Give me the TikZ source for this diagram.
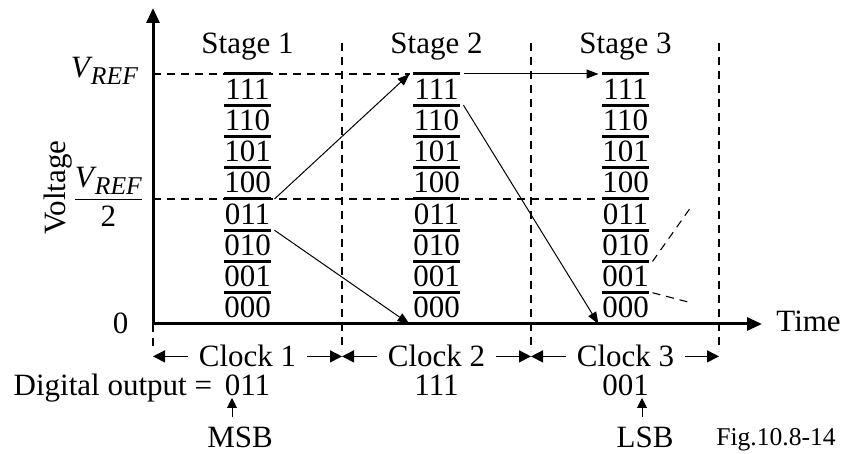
\documentclass[tikz,border=0pt]{standalone}
\usepackage{amsmath}
\usepackage{fontspec}
\setmainfont{Liberation Serif}
\usetikzlibrary{arrows.meta,positioning,calc}
\tikzset{
  axisline/.style={line width=1.5pt, line join=miter, {Triangle[length=7.5pt,width=6.5pt]}-{Triangle[length=7.5pt,width=6.5pt]}},
  levelbar/.style={line width=1.5pt},
  guideline/.style={line width=0.55pt, dash pattern=on 4pt off 3pt},
  sigarrow/.style={line width=0.5pt, -{Triangle[length=6pt,width=4.5pt]}},
  clockarrow/.style={line width=0.7pt, -{Triangle[length=6pt,width=6pt]}},
  bitarrow/.style={line width=0.5pt, -{Triangle[length=5pt,width=5pt]}},
  lbl/.style={inner sep=1pt, anchor=base}
}
\newcommand{\vrefsym}{\textit{V}\kern-0.06em\raisebox{-3.5pt}{\fontsize{12.8}{14}\selectfont\textit{REF}}}

\begin{document}
\begin{tikzpicture}[x=0.5pt, y=-0.5pt, font=\fontsize{15.5}{18}\selectfont]
    \useasboundingbox (0,0) rectangle (842,454);
    \coordinate (origin) at (153,324);
    \coordinate (ytip) at (153,8);
    \coordinate (xtip) at (762,324);
    \foreach \i/\vx in {0/153,1/342,2/531,3/719}{
      \coordinate (vt\i) at (\vx,43);
      \coordinate (vb\i) at (\vx,351);
    }
    \foreach \i in {1,2,3}
      \draw[guideline] (vt\i) -- (vb\i);
    \draw[guideline] (origin) -- (vb0);
    \foreach \s/\cx in {1/247.5,2/436.5,3/625.5}{
      \foreach \k in {0,...,8}{
        \coordinate (w\s-\k) at (\cx-27,324-31.25*\k);
        \coordinate (e\s-\k) at (\cx+27,324-31.25*\k);
      }
    }
    \draw[guideline] (origin |- w1-8) -- (w2-8);
    \draw[guideline] (origin |- w1-4) -- (w3-4);
    \draw[axisline] (ytip) -- (origin) -- (xtip);
    \foreach \s/\cx in {1/247.5,2/436.5,3/625.5}{
      \foreach \k in {1,...,8}
        \draw[levelbar] (\cx-23.5,324-31.25*\k) -- ++(47,0);
      \foreach \c [count=\i from 0] in {000,001,010,011,100,101,110,111}
        \node[lbl] (c\s-\c) at (\cx,318-31.25*\i) {\c};
      \node[lbl] (stage\s) at (\cx,54) {Stage \s};
      \node[lbl, inner xsep=5pt] (clk\s) at (\cx,367) {Clock \s};
    }
    \foreach \s/\p in {1/0,2/1,3/2}{
      \draw[clockarrow] (clk\s.west) -- (clk\s.west -| vb\p);
      \draw[clockarrow] (clk\s.east) -- (clk\s.east -| vb\s);
    }
    \draw[sigarrow] (e1-4) -- (w2-8);
    \draw[sigarrow] (e1-3) -- (w2-0);
    \draw[sigarrow] (e2-8) -- (w3-8);
    \draw[sigarrow] (e2-7) -- (w3-0);
    \coordinate (nextup) at (691,207);
    \coordinate (nextdn) at (692,303);
    \draw[guideline] (e3-2) -- (nextup);
    \draw[guideline] (e3-1) -- (nextdn);
    \node[lbl] (vreflbl) at (104.5,78) {\vrefsym};
    \node[lbl] (vhalflbl) at (108.5,206.5) {$\dfrac{\text{\vrefsym}}{\text{2}}$};
    \node[lbl] (zerolbl) at (120.5,334) {0};
    \node[lbl, rotate=90] (voltlbl) at (65,187.5) {Voltage};
    \node[lbl, anchor=base west] (timelbl) at (774,332) {Time};
    \node[lbl] (out1) at (247.5,396) {011};
    \node[lbl] (out2) at (436.5,396) {111};
    \node[lbl] (out3) at (625.5,396) {001};
    \node[lbl, anchor=base east] (doutlbl) at ([xshift=-4pt]out1.base west) {Digital output =};
    \node[lbl, outer ysep=4pt] (msb) at (240,448) {MSB};
    \node[lbl, outer ysep=4pt] (lsb) at (645,448) {LSB};
    \coordinate (msbtip) at (232,398);
    \coordinate (lsbtip) at (642,398);
    \draw[bitarrow] (msb.north -| msbtip) -- (msbtip);
    \draw[bitarrow] (lsb.north -| lsbtip) -- (lsbtip);
    \node[lbl, font=\fontsize{12.8}{14}\selectfont] (fig) at (776,446) {Fig.10.8-14};
  \end{tikzpicture}
\end{document}
